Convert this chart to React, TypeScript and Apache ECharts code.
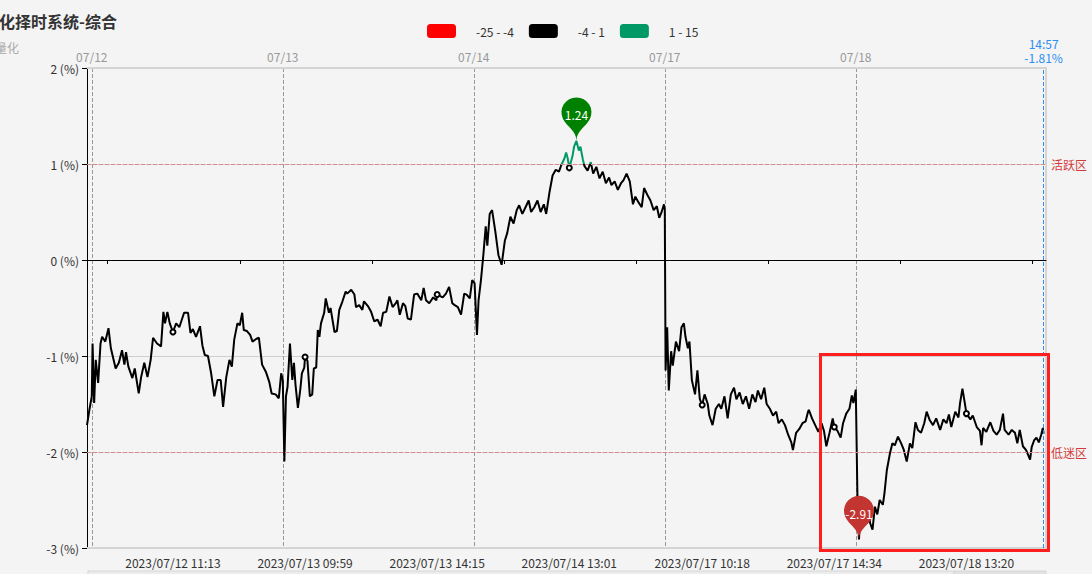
import React, { useEffect, useRef } from 'react';
import * as echarts from 'echarts';

// ---- categories (trading minutes) ----
const leadDay = '2023/07/11';
const leadTimes = ['14:55', '14:56', '14:57', '14:58', '14:59', '15:00'];
const tradingDays = ['2023/07/12', '2023/07/13', '2023/07/14', '2023/07/17', '2023/07/18'];
const sessions: [number, number][] = [[9 * 60 + 31, 11 * 60 + 30], [13 * 60 + 1, 15 * 60]];

// bottom axis labels
const bottomLabels = [
  '2023/07/12 11:13', '2023/07/13 09:59', '2023/07/13 14:15', '2023/07/14 13:01',
  '2023/07/17 10:18', '2023/07/17 14:34', '2023/07/18 13:20',
];
// ticks on the zero line (category indices)
const zeroLineTicks = [26, 192, 358, 524, 690, 856, 1022, 1188];

// ---- series: [category index, value %] ----
const samples: [number, number][] = [
  [0, -1.72], [3, -1.56], [6, -1.42], [7, -0.87], [9, -1.49], [11, -1.04], [14, -1.28], [17, -0.87],
  [19, -0.8], [23, -0.85], [27, -0.71], [30, -0.92], [36, -1.13], [40, -1.07], [44, -0.94], [47, -1.09],
  [49, -0.96], [52, -1.11], [57, -1.23], [60, -1.13], [65, -1.39], [68, -1.22], [72, -1.07], [76, -1.22],
  [80, -1.04], [83, -0.81], [88, -0.87], [93, -0.9], [96, -0.54], [98, -0.66], [101, -0.54], [104, -0.66],
  [108, -0.75], [112, -0.66], [116, -0.7], [122, -0.55], [127, -0.55], [130, -0.76], [133, -0.72], [137, -0.8],
  [142, -0.69], [145, -0.89], [148, -0.99], [152, -1.0], [156, -1.18], [160, -1.42], [164, -1.25], [168, -1.25],
  [171, -1.53], [175, -1.22], [179, -1.04], [182, -1.11], [185, -0.83], [189, -0.66], [192, -0.68], [195, -0.55],
  [197, -0.73], [201, -0.74], [205, -0.78], [208, -0.85], [213, -0.82], [216, -0.81], [220, -1.09], [225, -1.17],
  [229, -1.27], [232, -1.39], [237, -1.4], [241, -1.44], [244, -1.18], [246, -1.25], [248, -2.1], [250, -1.42],
  [252, -1.32], [255, -0.87], [258, -1.25], [260, -1.07], [262, -1.3], [265, -1.54], [268, -1.35], [270, -1.18],
  [273, -1.12], [274, -1.01], [277, -1.05], [280, -1.42], [283, -1.4], [285, -1.13], [288, -1.12], [290, -0.73],
  [292, -0.8], [294, -0.66], [298, -0.55], [300, -0.4], [304, -0.55], [306, -0.5], [311, -0.75], [314, -0.74],
  [317, -0.52], [321, -0.43], [325, -0.33], [327, -0.35], [332, -0.31], [336, -0.36], [338, -0.49], [342, -0.47],
  [346, -0.52], [348, -0.43], [353, -0.48], [357, -0.54], [361, -0.64], [365, -0.62], [369, -0.69], [372, -0.55],
  [376, -0.54], [380, -0.38], [384, -0.49], [388, -0.45], [390, -0.42], [393, -0.57], [397, -0.45], [400, -0.48],
  [403, -0.61], [407, -0.62], [411, -0.36], [415, -0.35], [420, -0.42], [423, -0.29], [426, -0.42], [430, -0.45],
  [435, -0.39], [439, -0.42], [440, -0.36], [447, -0.39], [451, -0.35], [455, -0.28], [459, -0.45], [462, -0.47],
  [466, -0.49], [470, -0.57], [474, -0.35], [477, -0.36], [481, -0.4], [484, -0.21], [487, -0.24], [490, -0.78],
  [492, -0.42], [495, -0.21], [498, 0.05], [501, 0.35], [503, 0.15], [506, 0.48], [509, 0.52], [513, 0.3],
  [517, 0.05], [521, -0.05], [525, 0.2], [528, 0.28], [532, 0.45], [536, 0.38], [540, 0.52], [543, 0.57],
  [547, 0.48], [551, 0.55], [555, 0.62], [558, 0.5], [562, 0.55], [566, 0.62], [570, 0.5], [574, 0.58],
  [577, 0.48], [581, 0.7], [585, 0.88], [589, 0.94], [593, 0.92], [596, 0.99], [600, 1.06], [602, 1.12],
  [604, 1.06], [606, 0.96], [608, 1.02], [610, 1.08], [612, 1.18], [615, 1.24], [618, 1.14], [620, 1.18],
  [623, 1.05], [625, 0.98], [629, 0.93], [633, 1.02], [636, 0.9], [640, 0.97], [644, 0.85], [648, 0.92],
  [652, 0.8], [656, 0.86], [659, 0.78], [663, 0.82], [667, 0.73], [671, 0.8], [674, 0.83], [678, 0.9],
  [682, 0.82], [686, 0.58], [689, 0.66], [693, 0.6], [697, 0.55], [700, 0.75], [704, 0.68], [708, 0.62],
  [712, 0.52], [716, 0.56], [719, 0.44], [722, 0.5], [725, 0.58], [726, 0.52], [727, -1.15], [729, -0.7],
  [731, -1.36], [734, -0.95], [736, -1.1], [740, -0.85], [744, -0.95], [747, -0.7], [750, -0.66], [752, -0.8],
  [755, -0.92], [757, -0.85], [760, -1.25], [764, -1.4], [767, -1.15], [770, -1.45], [773, -1.51], [776, -1.4],
  [780, -1.5], [782, -1.62], [786, -1.72], [790, -1.55], [794, -1.5], [797, -1.55], [801, -1.42], [805, -1.65],
  [809, -1.4], [813, -1.33], [816, -1.45], [820, -1.38], [824, -1.5], [828, -1.42], [832, -1.55], [836, -1.4],
  [840, -1.48], [843, -1.36], [847, -1.45], [851, -1.33], [854, -1.5], [858, -1.55], [862, -1.62], [866, -1.58],
  [869, -1.7], [873, -1.66], [877, -1.72], [881, -1.82], [885, -1.9], [887, -1.98], [891, -1.8], [895, -1.76],
  [899, -1.7], [903, -1.68], [906, -1.58], [907, -1.56], [911, -1.65], [915, -1.72], [919, -1.79], [923, -1.7],
  [926, -1.78], [929, -1.94], [933, -1.8], [937, -1.65], [939, -1.74], [943, -1.78], [947, -1.85], [950, -1.7],
  [954, -1.6], [958, -1.55], [961, -1.41], [963, -1.49], [966, -1.35], [968, -2.43], [970, -2.91], [973, -2.47],
  [976, -2.52], [979, -2.64], [981, -2.55], [984, -2.74], [987, -2.81], [990, -2.57], [993, -2.65], [996, -2.5],
  [1000, -2.55], [1002, -2.43], [1005, -2.19], [1009, -2.01], [1012, -1.91], [1015, -1.93], [1019, -1.84], [1023, -1.91],
  [1026, -1.97], [1030, -2.1], [1034, -1.91], [1037, -1.96], [1041, -1.69], [1044, -1.77], [1048, -1.8], [1052, -1.7],
  [1055, -1.58], [1059, -1.67], [1063, -1.72], [1067, -1.65], [1072, -1.77], [1076, -1.66], [1080, -1.7], [1083, -1.61],
  [1086, -1.74], [1091, -1.58], [1095, -1.64], [1097, -1.49], [1100, -1.34], [1103, -1.49], [1105, -1.6], [1110, -1.66],
  [1113, -1.62], [1118, -1.74], [1122, -1.78], [1124, -1.93], [1126, -1.75], [1130, -1.79], [1135, -1.69], [1139, -1.78],
  [1143, -1.82], [1147, -1.77], [1151, -1.6], [1153, -1.77], [1158, -1.82], [1162, -1.77], [1166, -1.8], [1169, -1.91],
  [1172, -1.77], [1176, -1.94], [1180, -1.98], [1185, -2.08], [1187, -1.95], [1190, -1.88], [1193, -1.85], [1196, -1.9],
  [1199, -1.82], [1201, -1.75], [1202, -1.81],
];

const lastTime = '2023/07/18 14:57';
const lastValue = -1.81;

// visual pieces / legend
const pieceRanges: [number, number][] = [[-25, -4], [-4, 1], [1, 15]];
const pieceColors = ['#ff0000', '#000000', '#009966'];
const pieceLabels = ['-25 - -4', '-4 - 1', '1 - 15'];

// zone lines
const zoneValues = [1, -2];
const zoneNames = ['活跃区', '低迷区'];

const yTicks = { min: -3, max: 2, interval: 1 };

function pad(n: number) { return n < 10 ? '0' + n : '' + n; }
function buildCategories(): string[] {
  const out: string[] = leadTimes.map((t) => leadDay + ' ' + t);
  tradingDays.forEach((d) => {
    sessions.forEach(([a, b]) => {
      for (let m = a; m <= b; m++) out.push(d + ' ' + pad(Math.floor(m / 60)) + ':' + pad(m % 60));
    });
  });
  return out;
}

export default function App() {
  const ref = useRef<HTMLDivElement>(null);
  useEffect(() => {
    if (!ref.current) return;
    const chart = echarts.init(ref.current, undefined, { renderer: 'svg' });
    const categories = buildCategories();
    const labelSet = new Set(bottomLabels);
    const labelIdx = new Set<number>();
    categories.forEach((c, i) => { if (labelSet.has(c)) labelIdx.add(i); });
    const dayStartIdx = new Set<number>();
    categories.forEach((c, i) => { if (c.endsWith('09:31')) dayStartIdx.add(i); });
    const zeroTickSet = new Set(zeroLineTicks);

    const seriesData = samples.map(([i, v]) =>
      labelIdx.has(i)
        ? { value: [i, v], symbol: 'emptyCircle', symbolSize: 5 }
        : { value: [i, v], symbol: 'none' }
    );

    const font = "'Noto Sans CJK SC', 'Noto Sans', sans-serif";
    const option: any = {
      animation: false,
      backgroundColor: '#f4f4f4',
      textStyle: { fontFamily: font },
      title: [
        { text: '量化择时系统-综合', left: -22, top: 8, textStyle: { fontSize: 16, fontWeight: 'bold', color: '#333', fontFamily: font } },
        { text: '量化', left: -10, top: 36, textStyle: { fontSize: 12, fontWeight: 'normal', color: '#aaa', fontFamily: font } },
      ],
      visualMap: {
        type: 'piecewise',
        seriesIndex: 0,
        dimension: 1,
        orient: 'horizontal',
        left: 412,
        top: 9,
        itemWidth: 29,
        itemHeight: 14,
        itemGap: 15,
        textGap: 20,
        pieces: pieceRanges.map(([a, b], k) => ({ gte: a, lt: b, color: pieceColors[k], label: pieceLabels[k] })),
        textStyle: { color: '#333', fontSize: 12, fontFamily: font },
      },
      grid: { left: 87, right: 46, top: 68, bottom: 26, containLabel: false },
      xAxis: [
        {
          type: 'category', data: categories, position: 'bottom', boundaryGap: false,
          axisLine: { onZero: false, lineStyle: { color: '#d4d4d4', width: 2 } },
          axisTick: { show: false },
          axisLabel: { interval: (i: number) => labelIdx.has(i), color: '#333', fontSize: 12, margin: 8 },
          splitLine: { show: false },
        },
        {
          type: 'category', data: categories, position: 'top', boundaryGap: false,
          axisLine: { onZero: false, lineStyle: { color: '#d4d4d4', width: 2 } },
          axisTick: { show: false },
          axisLabel: { interval: (i: number) => dayStartIdx.has(i), formatter: (v: string) => v.slice(5, 10), color: '#999', fontSize: 12, margin: 6 },
          splitLine: { show: true, interval: (i: number) => dayStartIdx.has(i), lineStyle: { color: '#999', type: 'dashed', width: 1 } },
        },
        {
          type: 'category', data: categories, position: 'bottom', boundaryGap: false,
          axisLine: { onZero: true, onZeroAxisIndex: 0, lineStyle: { color: '#000', width: 1 } },
          axisTick: { show: true, interval: (i: number) => zeroTickSet.has(i), length: 4, lineStyle: { color: '#000' } },
          axisLabel: { show: false },
          splitLine: { show: false },
        },
      ],
      yAxis: [
        {
          type: 'value', position: 'left', min: yTicks.min, max: yTicks.max, interval: yTicks.interval,
          axisLine: { show: true, lineStyle: { color: '#000' } },
          axisTick: { show: true, length: 5, lineStyle: { color: '#000' } },
          axisLabel: { formatter: '{value} (%)', color: '#333', fontSize: 12 },
          splitLine: { show: true, lineStyle: { color: '#cfcfcf', width: 1 } },
        },
        {
          type: 'value', position: 'right', min: yTicks.min, max: yTicks.max, interval: yTicks.interval,
          axisLine: { show: true, lineStyle: { color: '#d4d4d4', width: 2 } },
          axisTick: { show: false }, axisLabel: { show: false }, splitLine: { show: false },
        },
      ],
      series: [
        {
          type: 'line',
          xAxisIndex: 0,
          yAxisIndex: 0,
          data: seriesData,
          symbol: 'emptyCircle',
          symbolSize: 5,
          showSymbol: true,
          showAllSymbol: true,
          lineStyle: { width: 2 },
          markPoint: {
            symbol: 'pin',
            symbolSize: 50,
            label: { color: '#fff', fontSize: 12, fontFamily: font },
            data: [
              { type: 'max', name: 'max', itemStyle: { color: '#008000' } },
              { type: 'min', name: 'min', itemStyle: { color: '#c23531' } },
            ],
          },
          markLine: {
            silent: true,
            symbol: 'none',
            data: [
              ...zoneValues.map((v, k) => ({
                yAxis: v,
                lineStyle: { color: '#d98a8a', type: 'dashed', width: 1 },
                label: { show: true, position: 'end', formatter: zoneNames[k], color: '#d23b3b', fontSize: 12, fontFamily: font },
              })),
              {
                xAxis: lastTime,
                lineStyle: { color: '#2b8ef0', type: 'dashed', width: 1 },
                label: {
                  show: true, position: 'end', distance: 4,
                  formatter: lastTime.slice(11) + '\n' + lastValue.toFixed(2) + '%',
                  color: '#2b8ef0', fontSize: 12, lineHeight: 14, fontFamily: font,
                },
              },
            ],
          },
        },
      ],
      graphic: [
        { type: 'rect', shape: { x: 88, y: 571, width: 866, height: 12 }, style: { fill: '#ececec', stroke: '#d6d6d6', lineWidth: 1 }, z: 50 },
        { type: 'rect', shape: { x: 954, y: 571, width: 92, height: 12 }, style: { fill: '#e2e2e2', stroke: '#d6d6d6', lineWidth: 1 }, z: 50 },
        { type: 'rect', shape: { x: 820.5, y: 354.5, width: 228, height: 196 }, style: { fill: 'none', stroke: '#ff1e1e', lineWidth: 3 }, z: 100 },
      ],
    };
    chart.setOption(option);
    return () => chart.dispose();
  }, []);
  return <div ref={ref} style={{ position: 'fixed', left: 0, top: 0, width: 1092, height: 574 }} />;
}
